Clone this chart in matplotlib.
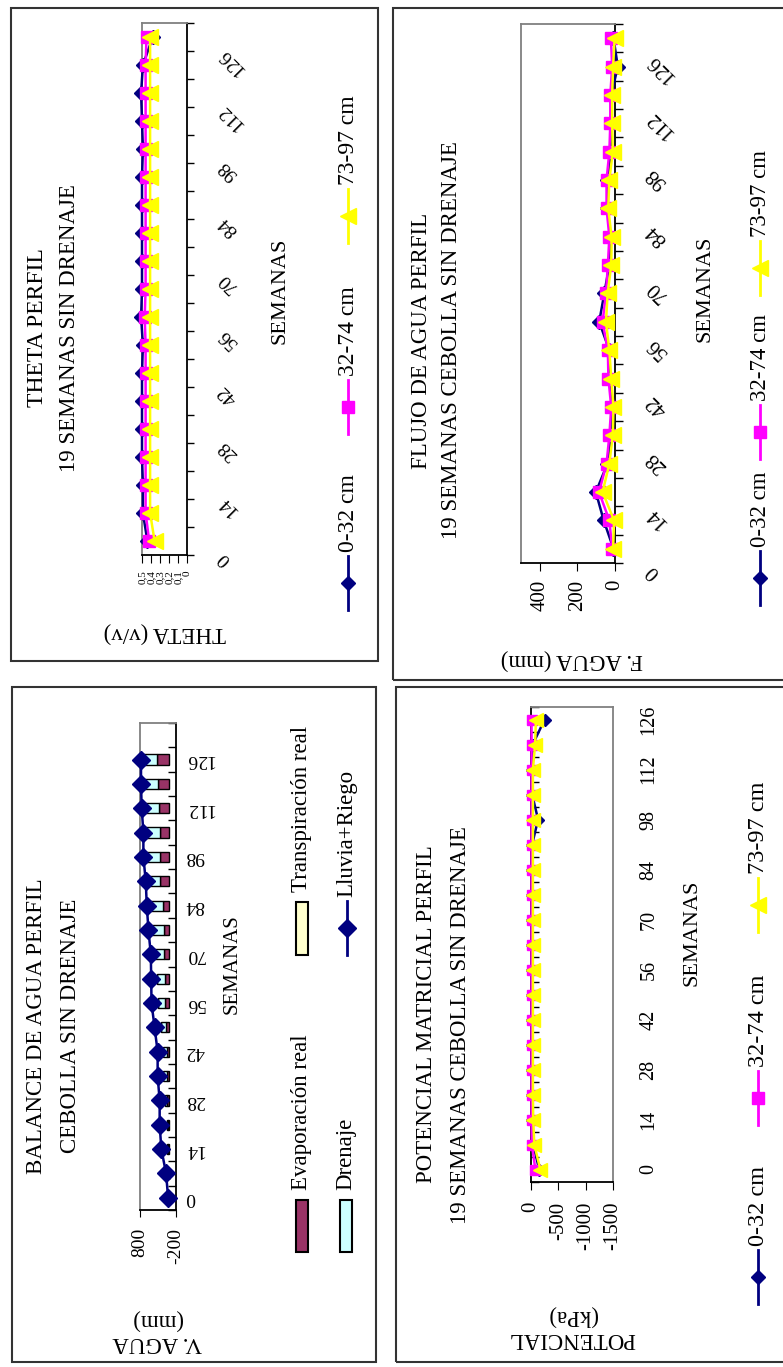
import numpy as np
import matplotlib
matplotlib.use("Agg")
import matplotlib.pyplot as plt
import matplotlib.transforms as mtransforms
from matplotlib.lines import Line2D
from matplotlib.patches import Rectangle

plt.rcParams['font.family'] = ['Liberation Serif', 'DejaVu Serif']

W, H = 783, 1367

# ---- data ---------------------------------------------------------------
semanas = [0, 7, 14, 21, 28, 35, 42, 49, 56, 63, 70, 77, 84, 91, 98, 105, 112, 119, 126]

capas = ['0-32 cm', '32-74 cm', '73-97 cm']

theta_0_32 = [0.44, 0.49, 0.49, 0.50, 0.50, 0.50, 0.50, 0.49, 0.51, 0.50,
              0.50, 0.50, 0.50, 0.50, 0.49, 0.50, 0.51, 0.49, 0.38]
theta_32_74 = [0.42, 0.46, 0.46, 0.46, 0.46, 0.46, 0.46, 0.46, 0.47, 0.46,
               0.46, 0.46, 0.46, 0.46, 0.46, 0.46, 0.46, 0.46, 0.45]
theta_73_97 = [0.36, 0.41, 0.41, 0.41, 0.41, 0.41, 0.41, 0.41, 0.41, 0.41,
               0.41, 0.41, 0.41, 0.41, 0.41, 0.41, 0.41, 0.41, 0.41]

flujo_0_32 = [8, 60, 102, 40, 20, 12, 30, 30, 84, 57, 30, 25, 40, 40, 20, 20, 20, -15, 8]
flujo_32_74 = [15, 30, 85, 45, 30, 20, 35, 38, 66, 48, 38, 30, 45, 45, 30, 25, 25, 15, 22]
flujo_73_97 = [10, 5, 66, 30, 12, 8, 20, 30, 48, 39, 20, 18, 36, 30, 12, 15, 15, 10, 2]

potencial_0_32 = [-150, -40, -25, -20, -20, -20, -20, -20, -20, -20,
                  -20, -20, -20, -20, -130, -20, -20, -30, -250]
potencial_32_74 = [-80, -15, -10, -10, -10, -10, -10, -10, -10, -10,
                   -10, -10, -10, -10, -10, -10, -10, -10, -10]
potencial_73_97 = [-170, -60, -40, -35, -35, -35, -35, -35, -35, -35,
                   -35, -35, -35, -35, -35, -35, -35, -75, -90]

evaporacion = [0, 5, 30, 35, 40, 55, 50, 90, 110, 115, 141, 141, 169, 235, 235, 254, 282, 301, 329]
drenaje = [0, 0, 10, 20, 60, 95, 110, 130, 200, 210, 282, 329, 376, 376, 405, 405, 423, 405, 376]
transpiracion = [0] * 19
lluvia_riego = [19, 75, 207, 254, 254, 310, 310, 395, 480, 489, 500, 565, 612, 640, 706, 706, 753, 772, 772]

# ---- styles -------------------------------------------------------------
NAVY, MAGENTA, YELLOW = '#000080', '#FF00FF', '#FFFF00'
estilos = [(NAVY, 'D', 7), (MAGENTA, 's', 8), (YELLOW, '<', 11)]
GRAY = '#808080'

fig = plt.figure(figsize=(W / 100, H / 100), dpi=100)


def px_axes(left, top, right, bottom):
    return fig.add_axes([left / W, 1 - bottom / H, (right - left) / W, (bottom - top) / H])


def ftext(x, y, s, **kw):
    return fig.text(x / W, 1 - y / H, s, **kw)


def frame(ax, black):
    for side, sp in ax.spines.items():
        sp.set_color('black' if side in black else GRAY)
        sp.set_linewidth(1.3)


def category_ticks(ax, n, side, direction, length):
    ax.set_yticks(np.arange(-0.5, n, 1.0))
    ax.set_yticklabels([])
    ax.tick_params(axis='y', left=(side == 'left'), right=(side == 'right'),
                   direction=direction, length=length, width=1,
                   labelleft=False, labelright=False)


def category_labels(ax, dx, dy, **kw):
    base = mtransforms.blended_transform_factory(ax.transAxes, ax.transData)
    tr = mtransforms.offset_copy(base, fig=fig, x=dx, y=dy, units='dots')
    for i in range(0, len(semanas), 2):
        ax.text(1, i, str(semanas[i]), transform=tr, clip_on=False, **kw)


def draw_series(ax, series, scale=1.0):
    cats = np.arange(len(semanas))
    for vals, (color, marker, ms) in zip(series, estilos):
        ax.plot(vals, cats, color=color, lw=1.8, marker=marker, ms=ms * scale,
                mfc=color, mec=color, clip_on=False, zorder=3)


def legend_line(x, y, color, marker, ms, label, fs, half=27):
    fig.add_artist(Line2D([x / W] * 2, [1 - (y + half) / H, 1 - (y - half) / H], color=color, lw=2))
    fig.add_artist(Line2D([x / W], [1 - y / H], color=color, marker=marker, ms=ms,
                          ls='none', mec=color, mfc=color))
    ftext(x, y - half - 4, label, rotation=90, ha='center', va='bottom', fontsize=fs)


def legend_patch(x0, x1, y0, y1, color, label, fs):
    fig.add_artist(Rectangle((x0 / W, 1 - y1 / H), (x1 - x0) / W, (y1 - y0) / H,
                             facecolor=color, edgecolor='black', lw=1.5,
                             transform=fig.transFigure))
    ftext((x0 + x1) / 2, y0 - 10, label, rotation=90, ha='center', va='bottom', fontsize=fs)


def outer_box(x0, y0, x1, y1):
    fig.add_artist(Rectangle((x0 / W, 1 - y1 / H), (x1 - x0) / W, (y1 - y0) / H,
                             fill=False, edgecolor='#333333', lw=1.5,
                             transform=fig.transFigure))


n = len(semanas)

# ---- THETA PERFIL -------------------------------------------------------
ax = px_axes(142, 23, 187, 555)
ax.set_xlim(0.5, 0)
ax.set_ylim(-0.5, n - 0.5)
frame(ax, ('right', 'bottom'))
category_ticks(ax, n, 'right', 'out', 5)
ax.set_xticks([0.5, 0.4, 0.3, 0.2, 0.1, 0.0],
              labels=['0,5', '0,4', '0,3', '0,2', '0,1', '0'], rotation=90, fontsize=8)
ax.tick_params(axis='x', direction='out', length=6, pad=5)
draw_series(ax, [theta_0_32, theta_32_74, theta_73_97])
category_labels(ax, 28, -8, rotation=135, ha='left', va='top', fontsize=14)

ftext(38, 328, 'THETA PERFIL', rotation=90, ha='center', va='center', fontsize=17)
ftext(70, 328, '19 SEMANAS SIN DRENAJE', rotation=90, ha='center', va='center', fontsize=16.5)
ftext(280, 291, 'SEMANAS', rotation=90, ha='center', va='center', fontsize=16)
ftext(165, 633, 'THETA (v/v)', rotation=180, ha='center', va='center', fontsize=16.5)
for (color, marker, ms), name, y in zip(estilos, capas, [583, 407, 216]):
    legend_line(348, y, color, marker, ms, name, 17)

# ---- FLUJO DE AGUA PERFIL -----------------------------------------------
ax = px_axes(521, 24, 615, 563)
ax.set_xlim(500, 0)
ax.set_ylim(-0.5, n - 0.5)
frame(ax, ('right', 'bottom'))
category_ticks(ax, n, 'right', 'out', 6)
ax.set_xticks([400, 200, 0], labels=['400', '200', '0'], rotation=90, fontsize=15)
ax.tick_params(axis='x', direction='out', length=6, pad=6)
draw_series(ax, [flujo_0_32, flujo_32_74, flujo_73_97])
category_labels(ax, 28, -12, rotation=135, ha='left', va='top', fontsize=15)

ftext(422, 341, 'FLUJO DE AGUA PERFIL', rotation=90, ha='center', va='center', fontsize=16.5)
ftext(452, 340, '19 SEMANAS CEBOLLA SIN DRENAJE', rotation=90, ha='center', va='center', fontsize=16.5)
ftext(705, 289, 'SEMANAS', rotation=90, ha='center', va='center', fontsize=16)
ftext(572, 660, 'F. AGUA (mm)', rotation=180, ha='center', va='center', fontsize=16.5)
for (color, marker, ms), name, y in zip(estilos, capas, [578, 432, 268]):
    legend_line(760, y, color, marker, ms, name, 16.5)

# ---- BALANCE DE AGUA PERFIL ---------------------------------------------
nb = n + 1
ax = px_axes(140, 723, 176, 1210)
ax.set_xlim(800, -200)
ax.set_ylim(-0.5, nb - 0.5)
frame(ax, ('right', 'bottom'))
category_ticks(ax, nb, 'right', 'in', 6)
ax.set_xticks([800, -200], labels=['800', '-200'], rotation=90, fontsize=14)
ax.tick_params(axis='x', direction='out', length=5, pad=8)
cats = np.arange(n)
izq = np.zeros(n)
for vals, color in [(evaporacion, '#993366'), (drenaje, '#CCFFFF'), (transpiracion, '#FFFFCC')]:
    ax.barh(cats, vals, left=izq, height=0.42, color=color, edgecolor='black', lw=1, zorder=2)
    izq = izq + np.asarray(vals, dtype=float)
ax.plot(lluvia_riego, cats, color=NAVY, lw=1.8, marker='D', ms=9, clip_on=False, zorder=3)
category_labels(ax, 9, 0, rotation=180, ha='left', va='center', fontsize=14)

ftext(37, 1026, 'BALANCE DE AGUA PERFIL', rotation=90, ha='center', va='center', fontsize=16.5)
ftext(70, 1026, 'CEBOLLA SIN DRENAJE', rotation=90, ha='center', va='center', fontsize=16.5)
ftext(232, 964, 'SEMANAS', rotation=90, ha='center', va='center', fontsize=15)
ftext(157, 1331, 'V. AGUA\n(mm)', rotation=180, ha='center', va='center',
      multialignment='center', fontsize=16.5, linespacing=1.1)
legend_patch(296, 308, 1200, 1252, '#993366', 'Evaporación real', 16.5)
legend_patch(340, 352, 1200, 1252, '#CCFFFF', 'Drenaje', 16.5)
legend_patch(296, 308, 902, 955, '#FFFFCC', 'Transpiración real', 16.5)
legend_line(347, 928, NAVY, 'D', 9, 'Lluvia+Riego', 16.5)

# ---- POTENCIAL MATRICIAL PERFIL -----------------------------------------
ax = px_axes(531, 707, 613, 1182)
ax.set_xlim(0, -1500)
ax.set_ylim(-0.5, n - 0.5)
frame(ax, ('left', 'bottom'))
category_ticks(ax, n, 'left', 'in', 6)
ax.set_xticks([0, -500, -1000, -1500], labels=['0', '-500', '-1000', '-1500'],
              rotation=90, fontsize=15)
ax.tick_params(axis='x', direction='out', length=6, pad=8)
draw_series(ax, [potencial_0_32, potencial_32_74, potencial_73_97], scale=0.9)
category_labels(ax, 36, 0, rotation=90, ha='center', va='center', fontsize=14.5)

ftext(427, 1014, 'POTENCIAL MATRICIAL PERFIL', rotation=90, ha='center', va='center', fontsize=16.5)
ftext(460, 1025, '19 SEMANAS CEBOLLA SIN DRENAJE', rotation=90, ha='center', va='center', fontsize=16.5)
ftext(692, 933, 'SEMANAS', rotation=90, ha='center', va='center', fontsize=16)
ftext(572, 1327, 'POTENCIAL\n(kPa)', rotation=180, ha='center', va='center',
      multialignment='center', fontsize=16.5, linespacing=1.1)
for (color, marker, ms), name, y in zip(estilos, capas, [1277, 1098, 905]):
    legend_line(758, y, color, marker, ms, name, 17.5)

# ---- panel frames -------------------------------------------------------
outer_box(11, 8, 378, 661)
outer_box(393, 8, 800, 680)
outer_box(12, 687, 376, 1362)
outer_box(396, 687, 800, 1362)

fig.savefig('out.png', dpi=100)
